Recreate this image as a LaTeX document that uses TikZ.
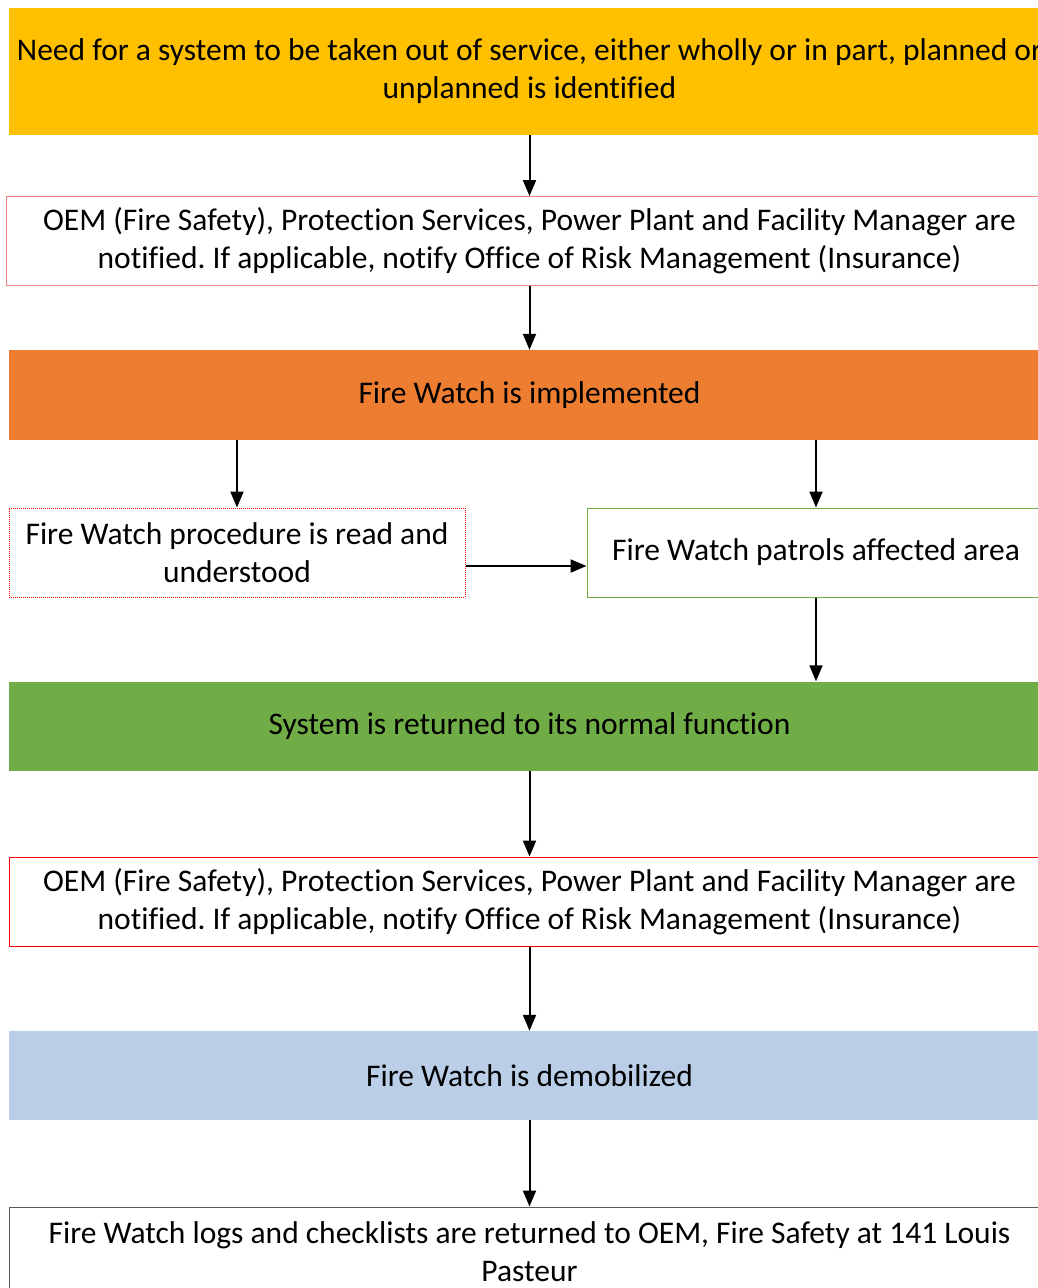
\documentclass[tikz,border=0pt]{standalone}
\usepackage{fontspec}
\setmainfont{Carlito}[Ligatures=NoCommon]
\usetikzlibrary{arrows.meta}
\frenchspacing
\definecolor{stepyellow}{HTML}{FFC000}
\definecolor{steporange}{HTML}{ED7D31}
\definecolor{stepgreen}{HTML}{70AD47}
\definecolor{stepblue}{HTML}{BACEE7}
\definecolor{softred}{HTML}{F08080}
\definecolor{logline}{HTML}{595959}
\tikzset{
  stage/.style={rectangle, minimum height=89pt, align=center, inner sep=0pt, font=\fontsize{31.5}{38}\selectfont},
  flow/.style={-{Triangle[length=16pt,width=13pt]}, line width=2pt},
}
\begin{document}
\begin{tikzpicture}[x=1pt,y=-1pt]
\useasboundingbox (0,0) rectangle (1038,1288);
\node[stage, fill=stepyellow, minimum width=1041pt, minimum height=127pt] (need) at (529.5,71) {Need for a system to be taken out of service, either wholly or in part, planned or\\unplanned is identified};
\node[stage, draw=softred, line width=1pt, fill=white, minimum width=1047pt] (notify) at (529.5,241) {OEM (Fire Safety), Protection Services, Power Plant and Facility Manager are\\notified. If applicable, notify Office of Risk Management (Insurance)};
\node[stage, fill=steporange, minimum width=1041pt, minimum height=90pt] (implement) at (529.5,395) {Fire Watch is implemented};
\node[stage, draw=red, densely dotted, line width=1pt, minimum width=456pt] (procedure) at (237,552.5) {Fire Watch procedure is read and\\understood};
\node[stage, draw=stepgreen, line width=1pt, minimum width=458pt] (patrol) at (816,552.5) {Fire Watch patrols affected area};
\node[stage, fill=stepgreen, minimum width=1041pt] (returned) at (529.5,726) {System is returned to its normal function};
\node[stage, draw=red, line width=1pt, minimum width=1041pt] (renotify) at (529.5,901.5) {OEM (Fire Safety), Protection Services, Power Plant and Facility Manager are\\notified. If applicable, notify Office of Risk Management (Insurance)};
\node[stage, fill=stepblue, minimum width=1041pt] (demob) at (529.5,1075.5) {Fire Watch is demobilized};
\node[stage, draw=logline, line width=1pt, minimum width=1041pt] (logs) at (529.5,1251.5) {Fire Watch logs and checklists are returned to OEM, Fire Safety at 141 Louis\\Pasteur};
\draw[flow] (need.south) -- (notify.north);
\draw[flow] (notify.south) -- (implement.north);
\draw[flow] (procedure.north |- implement.south) -- (procedure.north);
\draw[flow] (patrol.north |- implement.south) -- (patrol.north);
\draw[flow] ([yshift=-13.5pt]procedure.east) -- ([yshift=-13.5pt]patrol.west);
\draw[flow] (patrol.south) -- (patrol.south |- returned.north);
\draw[flow] (returned.south) -- (renotify.north);
\draw[flow] (renotify.south) -- (demob.north);
\draw[flow] (demob.south) -- (logs.north);
\end{tikzpicture}
\end{document}
